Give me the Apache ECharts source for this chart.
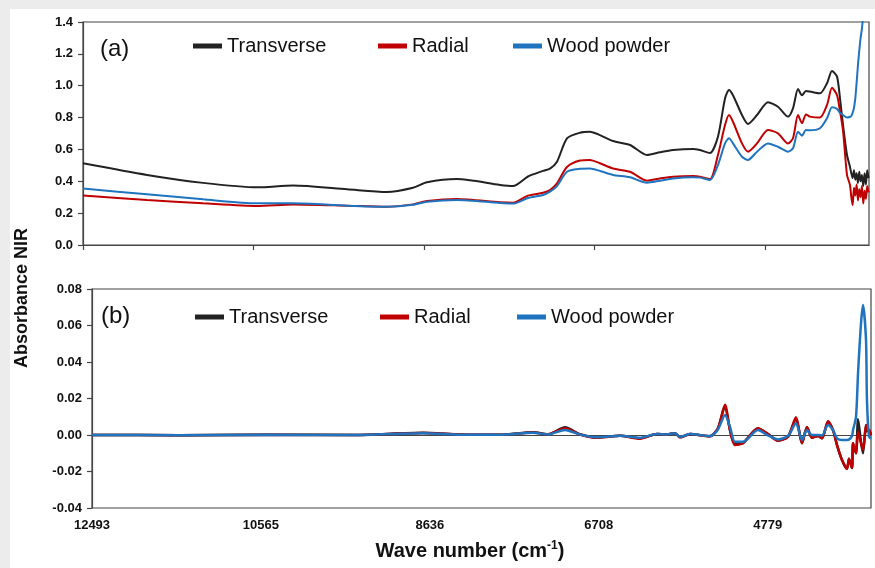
<!DOCTYPE html>
<html>
<head>
<meta charset="utf-8">
<script src="https://cdn.jsdelivr.net/npm/echarts@6/dist/echarts.min.js"></script>
<style>
  html, body { margin: 0; padding: 0; background: #ececec; }
  #sheet { position: absolute; left: 10px; top: 9px; right: 0; bottom: 0; background: #ffffff; }
  #chart { position: absolute; left: 0; top: 0; width: 875px; height: 568px; }
</style>
</head>
<body>
<div id="sheet"></div>
<div id="chart"></div>
<script>
// NIR absorbance spectra (a) and their second-derivative spectra (b)
const seriesNames = ['Transverse', 'Radial', 'Wood powder'];
const xTicks = [12493, 10565, 8636, 6708, 4779];

// (a) absorbance, wave number in cm-1
const waveA = [12493, 11769, 11135, 10524, 10117, 9506, 9054, 8759, 8601, 8262,
  7775, 7628, 7458, 7289, 7209, 7130, 7017, 6870, 6757, 6644,
  6497, 6304, 6112, 5965, 5818, 5591, 5512, 5399, 5309, 5229,
  5184, 5139, 5037, 4969, 4867, 4743, 4630, 4517, 4460, 4403,
  4358, 4313, 4268, 4155, 4075, 4019, 3962, 3928, 3894, 3849,
  3815, 3800, 3785, 3770, 3755, 3740, 3725, 3710, 3695, 3680,
  3665, 3650, 3635, 3620, 3605];
const transverseA = [0.513, 0.44, 0.39, 0.362, 0.373, 0.35, 0.333, 0.36, 0.394, 0.414,
  0.377, 0.37, 0.43, 0.465, 0.48, 0.523, 0.67, 0.705, 0.711, 0.69,
  0.653, 0.628, 0.565, 0.582, 0.596, 0.603, 0.596, 0.578, 0.68, 0.92,
  0.973, 0.94, 0.816, 0.76, 0.816, 0.896, 0.868, 0.806, 0.858, 0.979,
  0.94, 0.967, 0.963, 0.952, 1.015, 1.092, 1.057, 0.92, 0.753, 0.565,
  0.49, 0.45, 0.42, 0.47, 0.41, 0.45, 0.39, 0.46, 0.40, 0.44,
  0.37, 0.45, 0.38, 0.47, 0.42];
const radialA = [0.31, 0.283, 0.262, 0.245, 0.255, 0.247, 0.24, 0.255, 0.276, 0.289,
  0.268, 0.265, 0.31, 0.328, 0.345, 0.387, 0.49, 0.53, 0.534, 0.513,
  0.48, 0.46, 0.404, 0.418, 0.429, 0.433, 0.429, 0.414, 0.565, 0.753,
  0.816, 0.774, 0.638, 0.586, 0.638, 0.722, 0.701, 0.638, 0.67, 0.816,
  0.764, 0.82, 0.806, 0.8, 0.879, 0.988, 0.94, 0.84, 0.72, 0.44,
  0.377, 0.30, 0.25, 0.36, 0.31, 0.38, 0.28, 0.35, 0.30, 0.37,
  0.26, 0.34, 0.29, 0.37, 0.33];
const powderA = [0.354, 0.318, 0.287, 0.262, 0.262, 0.247, 0.24, 0.252, 0.272, 0.283,
  0.264, 0.26, 0.295, 0.314, 0.335, 0.37, 0.46, 0.478, 0.48, 0.465,
  0.44, 0.425, 0.391, 0.404, 0.418, 0.425, 0.423, 0.408, 0.502, 0.638,
  0.67, 0.638, 0.554, 0.534, 0.586, 0.638, 0.617, 0.586, 0.607, 0.711,
  0.686, 0.722, 0.72, 0.733, 0.795, 0.865, 0.855, 0.83, 0.816, 0.80,
  0.805, 0.81, 0.83, 0.86, 0.92, 1.02, 1.13, 1.22, 1.30, 1.36,
  1.45, 1.6, 1.8, 2.0, 2.2];

// (b) second derivative
const waveB = [12493, 11500, 10500, 9500, 8714, 8300, 7835, 7459, 7287, 7093,
  6922, 6728, 6465, 6237, 6043, 5929, 5837, 5780, 5666, 5438,
  5347, 5267, 5210, 5153, 5061, 4890, 4787, 4662, 4547, 4456,
  4388, 4331, 4273, 4205, 4159, 4091, 4034, 3988, 3931, 3874,
  3851, 3817, 3805, 3771, 3748, 3714, 3691, 3657, 3646, 3623, 3600];
const transverseB = [0, -0.0001, 0.0002, 0, 0.0012, 0.0003, 0.0001, 0.0015, 0.0004, 0.0042,
  0.0004, -0.0013, -0.0004, -0.0018, 0.0005, 0.0003, 0.001, -0.0013, 0.0005, -0.0007,
  0.0037, 0.0158, 0.0027, -0.005, -0.0043, 0.0035, 0.0009, -0.003, -0.0009, 0.009,
  -0.0045, 0.0042, -0.0015, -0.0005, -0.0018, 0.0072, 0.0027, -0.0055, -0.0137, -0.0185,
  -0.013, -0.0182, -0.0045, -0.01, 0.0086, -0.004, -0.01, 0.0055, 0.002, 0.0027, 0];
const radialB = [0, -0.0001, 0.0001, 0, 0.0011, 0.0003, 0.0001, 0.0014, 0.0004, 0.0037,
  0.0003, -0.0015, -0.0004, -0.002, 0.0005, 0.0003, 0.001, -0.0013, 0.0005, -0.0007,
  0.0037, 0.0166, 0.0027, -0.0055, -0.0045, 0.0037, 0.0009, -0.0031, -0.0009, 0.0097,
  -0.0045, 0.0042, -0.0015, -0.0005, -0.0018, 0.0075, 0.0027, -0.0055, -0.0137, -0.0185,
  -0.013, -0.018, -0.0045, -0.01, 0.0018, -0.0045, -0.0082, 0.0055, 0.003, 0.0027, 0];
const powderB = [0, -0.0001, 0.0001, 0, 0.001, 0.0002, 0.0001, 0.0012, 0.0003, 0.0028,
  0.0002, -0.0012, -0.0004, -0.0015, 0.0005, 0.0003, 0.001, -0.001, 0.0005, -0.0006,
  0.003, 0.011, 0.0045, -0.0037, -0.0037, 0.0027, 0, -0.0024, -0.0005, 0.0064,
  -0.0027, 0.0027, 0, 0, -0.0003, 0.0055, 0.0027, -0.0018, -0.0027, -0.0027,
  -0.0025, -0.0005, 0.0027, 0.01, 0.0338, 0.0612, 0.0712, 0.052, 0.019, -0.0009, -0.002];

const colors = ['#222222', '#c00000', '#1f74bf'];
const FONT = "'Liberation Sans', Arial, sans-serif";
const AXIS_COLOR = '#454545';

function pairs(xs, ys) { return xs.map((x, i) => [x, ys[i]]); }

const axisLabelStyle = { color: '#111', fontFamily: FONT, fontWeight: 'bold', fontSize: 13 };

function lineSeries(name, xs, ys, idx, color, width) {
  return {
    type: 'line', name: name, data: pairs(xs, ys),
    xAxisIndex: idx, yAxisIndex: idx,
    showSymbol: false, smooth: 0.25, clip: true,
    lineStyle: { color: color, width: width }, itemStyle: { color: color },
    emphasis: { disabled: true }
  };
}

function legendItem(name, left, top) {
  return {
    data: [name], left: left, top: top, padding: 0,
    icon: 'rect', itemWidth: 29, itemHeight: 5,
    textStyle: { fontFamily: FONT, fontSize: 20, color: '#111' }
  };
}

const chart = echarts.init(document.getElementById('chart'));
chart.setOption({
  animation: false,
  grid: [
    { left: 83, top: 22, width: 786, height: 223, show: true, borderColor: AXIS_COLOR, borderWidth: 1.2, backgroundColor: 'transparent' },
    { left: 92, top: 289, width: 779, height: 219, show: true, borderColor: AXIS_COLOR, borderWidth: 1.2, backgroundColor: 'transparent' }
  ],
  xAxis: [
    {
      type: 'value', gridIndex: 0, inverse: true, min: 3600, max: 12493,
      axisLine: { show: true, lineStyle: { color: AXIS_COLOR, width: 1.2 } },
      axisTick: { show: true, customValues: xTicks, length: 5, lineStyle: { color: AXIS_COLOR, width: 1.2 } },
      axisLabel: { show: false },
      splitLine: { show: false }
    },
    {
      type: 'value', gridIndex: 1, inverse: true, min: 3600, max: 12493,
      axisLine: { show: true, lineStyle: { color: AXIS_COLOR, width: 1.2 } },
      axisTick: { show: false },
      axisLabel: Object.assign({ customValues: xTicks, margin: 11, formatter: v => String(v) }, axisLabelStyle),
      splitLine: { show: false }
    }
  ],
  yAxis: [
    {
      type: 'value', gridIndex: 0, min: 0, max: 1.4, interval: 0.2,
      axisLine: { show: true, lineStyle: { color: AXIS_COLOR, width: 1.2 } },
      axisTick: { show: true, length: 5, lineStyle: { color: AXIS_COLOR, width: 1.2 } },
      axisLabel: Object.assign({ margin: 10, formatter: v => v.toFixed(1) }, axisLabelStyle),
      splitLine: { show: false }
    },
    {
      type: 'value', gridIndex: 1, min: -0.04, max: 0.08, interval: 0.02,
      axisLine: { show: true, lineStyle: { color: AXIS_COLOR, width: 1.2 } },
      axisTick: { show: true, length: 5, lineStyle: { color: AXIS_COLOR, width: 1.2 } },
      axisLabel: Object.assign({ margin: 10, formatter: v => v.toFixed(2) }, axisLabelStyle),
      splitLine: { show: false }
    }
  ],
  legend: [
    legendItem(seriesNames[0], 193, 36),
    legendItem(seriesNames[1], 378, 36),
    legendItem(seriesNames[2], 513, 36),
    legendItem(seriesNames[0], 195, 307),
    legendItem(seriesNames[1], 380, 307),
    legendItem(seriesNames[2], 517, 307)
  ],
  series: [
    lineSeries(seriesNames[0], waveA, transverseA, 0, colors[0], 2),
    lineSeries(seriesNames[1], waveA, radialA, 0, colors[1], 2),
    lineSeries(seriesNames[2], waveA, powderA, 0, colors[2], 2),
    lineSeries(seriesNames[0], waveB, transverseB, 1, colors[0], 2.5),
    lineSeries(seriesNames[1], waveB, radialB, 1, colors[1], 2.5),
    lineSeries(seriesNames[2], waveB, powderB, 1, colors[2], 2.5)
  ],
  graphic: [
    { type: 'text', left: 100, top: 37, style: { text: '(a)', font: '24px ' + FONT, fill: '#111' } },
    { type: 'text', left: 101, top: 304, style: { text: '(b)', font: '24px ' + FONT, fill: '#111' } },
    {
      type: 'text', x: 22, y: 298, rotation: Math.PI / 2,
      style: { text: 'Absorbance NIR', x: 0, y: 0, align: 'center', verticalAlign: 'middle', font: 'bold 18px ' + FONT, fill: '#111' }
    },
    {
      type: 'text', x: 470, y: 551,
      style: {
        text: '{t|Wave number (cm}{s|-1}{t|)}', x: 0, y: 0, align: 'center', verticalAlign: 'middle',
        rich: {
          t: { fontFamily: FONT, fontWeight: 'bold', fontSize: 20, lineHeight: 22, fill: '#111' },
          s: { fontFamily: FONT, fontWeight: 'bold', fontSize: 12, lineHeight: 13, verticalAlign: 'top', fill: '#111' }
        }
      }
    }
  ]
});
</script>
</body>
</html>
